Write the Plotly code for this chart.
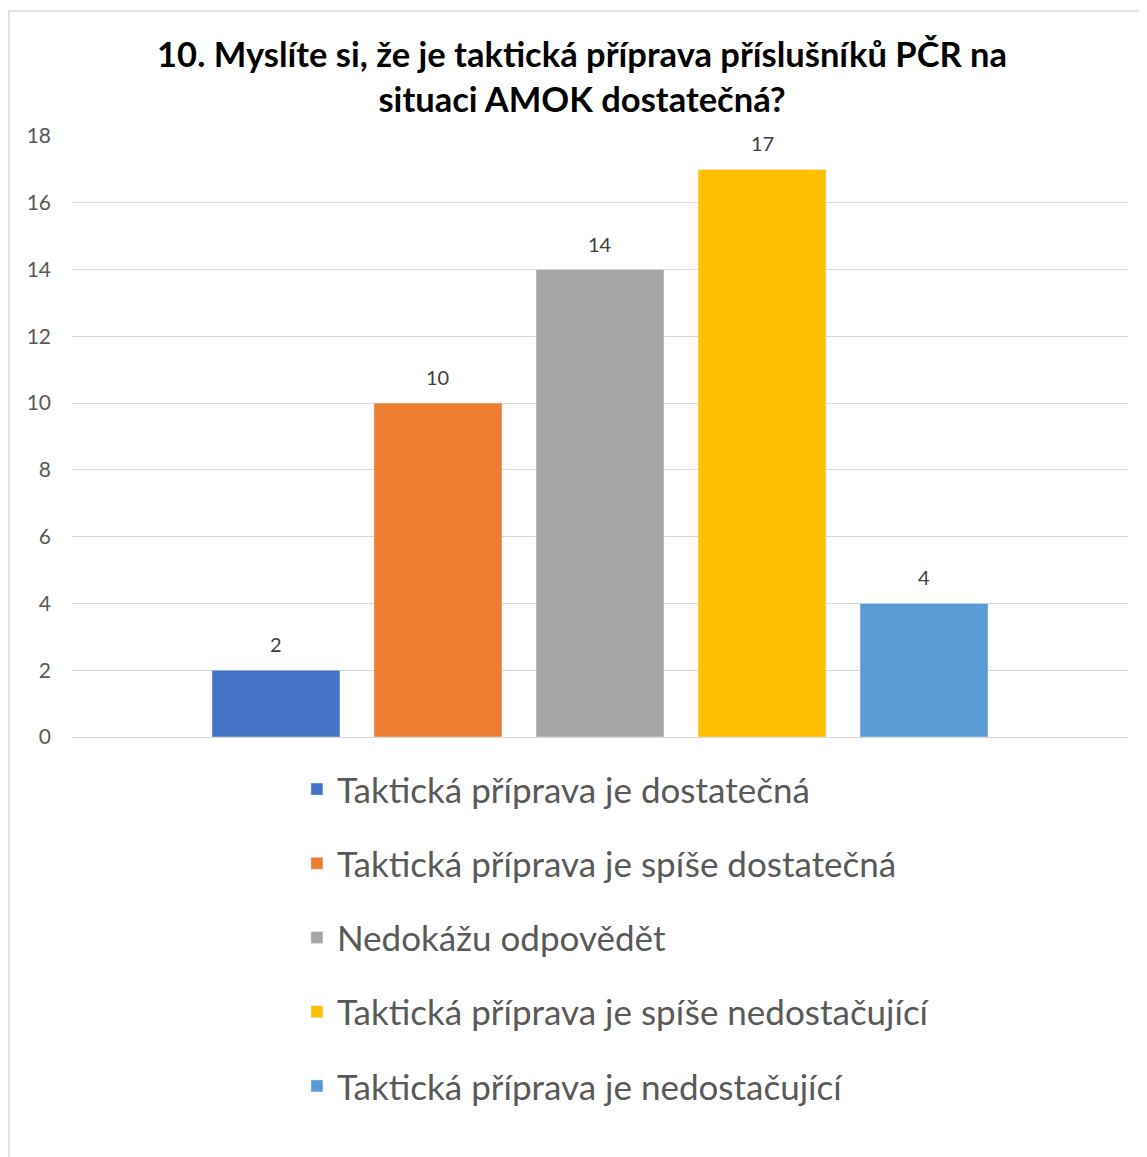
import plotly.graph_objects as go

# odpovedi na otazku 10
labels = [
    "Taktická příprava je dostatečná",
    "Taktická příprava je spíše dostatečná",
    "Nedokážu odpovědět",
    "Taktická příprava je spíše nedostačující",
    "Taktická příprava je nedostačující",
]
values = [2, 10, 14, 17, 4]
colors = ["#4472C4", "#ED7D31", "#A5A5A5", "#FFC000", "#5B9BD5"]

fig = go.Figure()
for i in range(len(labels)):
    fig.add_trace(go.Bar(
        x=[labels[i]], y=[values[i]], name=labels[i],
        marker_color=colors[i], legendgroup=str(i),
    ))
    # popisky hodnot nad sloupci
    fig.add_annotation(x=labels[i], y=values[i], text=str(values[i]),
                       showarrow=False, yanchor="middle", yshift=26,
                       font=dict(size=20, color="#404040", family="Lato"))

fig.update_layout(
    width=1147, height=1157,
    paper_bgcolor="white", plot_bgcolor="white",
    margin=dict(l=64, r=27, t=128, b=428),
    barmode="overlay", bargap=0.21,
    title=dict(
        text="10. Myslíte si, že je taktická příprava příslušníků PČR na<br>situaci AMOK dostatečná?",
        x=0.5005, xanchor="center", xref="container",
        y=1 - 59 / 1157, yanchor="top", yref="container",
        font=dict(family="Lato", size=34.5, color="black", weight="bold"),
    ),
    font=dict(family="Lato"),
    showlegend=True,
    legend=dict(
        orientation="v", x=0.213, xanchor="left", y=-0.038, yanchor="top",
        font=dict(size=35, color="#595959", family="Lato"),
        tracegroupgap=25.7, traceorder="grouped",
    ),
)
fig.update_xaxes(type="category", range=[-1.259, 5.259], showticklabels=False,
                 showgrid=False, zeroline=False, showline=False)
fig.update_yaxes(
    range=[0, 18], dtick=2, showgrid=True, gridcolor="#D9D9D9", gridwidth=1,
    zeroline=True, zerolinecolor="#D9D9D9", zerolinewidth=1, showline=False,
    tickfont=dict(size=21, color="#595959", family="Lato"), ticklabelstandoff=20,
)

# ramecek grafu
fig.add_shape(type="rect", xref="paper", yref="paper",
              x0=(1 - 64) / 1056, x1=1.2, y0=-1.5, y1=(729 - 3) / 601,
              line=dict(color="#D9D9D9", width=1.5), fillcolor="rgba(0,0,0,0)", layer="below")

fig.write_html("out.html")
